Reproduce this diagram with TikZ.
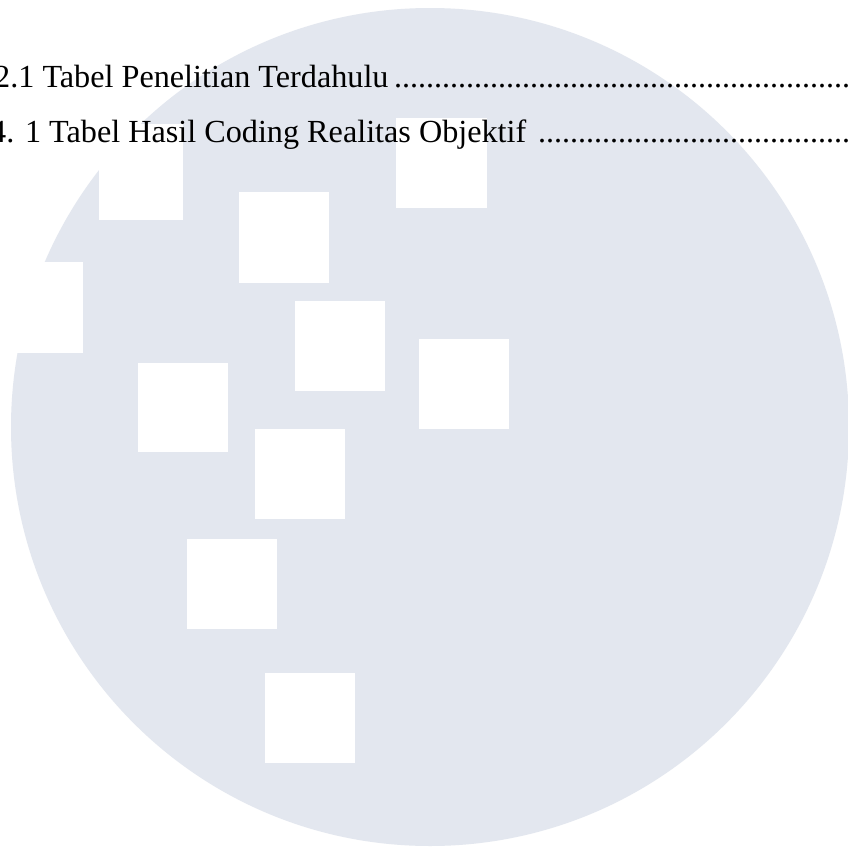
\documentclass[tikz,border=0pt]{standalone}
\usepackage{fontspec}
\setmainfont{Liberation Serif}
\definecolor{disc}{HTML}{E3E7EF}
\tikzset{
  px/.style={x=1pt,y=-1pt},
  hole/.style={fill=white,draw=none},
  entry/.style={anchor=base west,inner sep=0pt,text=black,font=\fontsize{32.2}{36}\selectfont}
}
\newcommand{\holebox}[4]{\fill[hole] (#1,#3) rectangle (#2,#4);}
\newcommand{\dotrun}[1]{{\fontsize{32}{36}\selectfont #1}}
\begin{document}
\begin{tikzpicture}[px]
\useasboundingbox (0,0) rectangle (848,849);
\clip (0,0) rectangle (848,849);
\fill[white] (0,0) rectangle (848,849);
\fill[disc] (430,427) circle[radius=419];
\holebox{99}{183}{124}{220}
\holebox{239}{329}{192}{283}
\holebox{396}{487}{118}{208}
\holebox{0}{83}{262}{353}
\holebox{295}{385}{301}{391}
\holebox{419}{509}{339}{429}
\holebox{138}{228}{363}{452}
\holebox{255}{345}{429}{519}
\holebox{187}{277}{539}{629}
\holebox{265}{355}{673}{763}
\node[entry] (rowa) at (-6,87) {\makebox[856pt][l]{2.1 Tabel Penelitian Terdahulu\hfill \dotrun{.........................................................}}};
\node[entry] (rowb) at (-10,142) {\makebox[860pt][l]{4. 1 Tabel Hasil Coding Realitas Objektif\hfill \dotrun{.......................................}}};
\end{tikzpicture}
\end{document}
